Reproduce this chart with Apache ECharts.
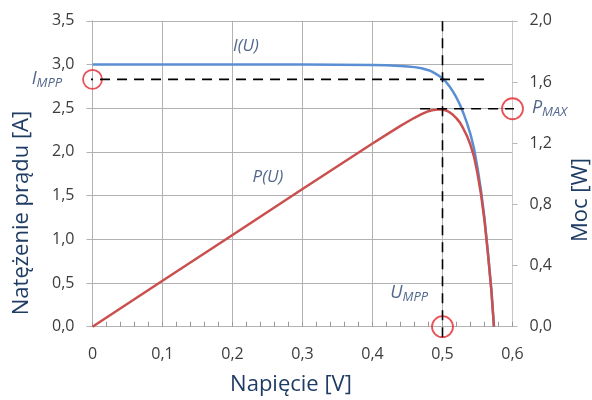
<!DOCTYPE html>
<html>
<head>
<meta charset="utf-8">
<script src="https://cdn.jsdelivr.net/npm/echarts@6/dist/echarts.min.js"></script>
<style>
html,body{margin:0;padding:0;background:#fff;}
#chart{width:592px;height:400px;}
</style>
</head>
<body>
<div id="chart"></div>
<script>
// ---- data ----
const voltage = [0, 0.1, 0.2, 0.3, 0.35, 0.4, 0.42, 0.44, 0.45, 0.46, 0.47, 0.48, 0.485, 0.49, 0.495, 0.5, 0.505, 0.51, 0.515, 0.52, 0.525, 0.53, 0.535, 0.54, 0.545, 0.55, 0.555, 0.56, 0.565, 0.57, 0.5735];
const current = [3.0, 3.0, 3.0, 3.0, 2.998, 2.995, 2.99, 2.984, 2.978, 2.97, 2.957, 2.935, 2.918, 2.895, 2.87, 2.84, 2.80, 2.75, 2.69, 2.62, 2.54, 2.44, 2.33, 2.20, 2.04, 1.82, 1.56, 1.24, 0.84, 0.40, 0];
const power   = [0, 0.30, 0.60, 0.90, 1.049, 1.198, 1.256, 1.313, 1.340, 1.366, 1.390, 1.409, 1.415, 1.419, 1.421, 1.420, 1.414, 1.402, 1.385, 1.362, 1.334, 1.293, 1.247, 1.188, 1.112, 1.001, 0.866, 0.694, 0.475, 0.228, 0];

const U_MPP = 0.5;
const I_MPP = 2.83;
const P_MAX = 1.425;

const xTickLabels = ['0', '0,1', '0,2', '0,3', '0,4', '0,5', '0,6'];
const leftTickLabels = ['0,0', '0,5', '1,0', '1,5', '2,0', '2,5', '3,0', '3,5'];
const rightTickLabels = ['0,0', '0,4', '0,8', '1,2', '1,6', '2,0'];

const curveLabels = ['I(U)', 'P(U)'];
// ---------------------------------------

const chart = echarts.init(document.getElementById('chart'), null, {renderer: 'canvas'});

const tickFont = {fontFamily: 'Open Sans', fontSize: 16, color: '#3c3c3c'};
const titleColor = '#1f3c64';
const gridColor = '#b2b2b2';
const dash = {color: '#000', width: 1.6, type: [10, 7]};
const annColor = '#26406e';
const rich = {
  m: {fontFamily: 'Open Sans', fontStyle: 'italic', fontSize: 18, color: annColor, lineHeight: 19, verticalAlign: 'top'},
  s: {fontFamily: 'Open Sans', fontStyle: 'italic', fontSize: 13, color: annColor, lineHeight: 14, padding: [7, 0, 0, 0]}
};

const circleStyle = {color: 'rgba(0,0,0,0)', borderColor: '#e4262c', borderWidth: 1.8};

const option = {
  animation: false,
  backgroundColor: '#fff',
  grid: {left: 92.5, right: 79.5, top: 20.8, bottom: 73.3, containLabel: false},
  xAxis: {
    type: 'value', min: 0, max: 0.6, interval: 0.1,
    axisLine: {show: true, lineStyle: {color: gridColor, width: 1}},
    axisTick: {show: true, inside: true, length: 5, lineStyle: {color: '#9a9a9a'}},
    minorTick: {show: true, splitNumber: 5, length: 5, lineStyle: {color: '#9a9a9a'}},
    splitLine: {show: true, lineStyle: {color: gridColor}},
    axisLabel: Object.assign({margin: 20, formatter: v => xTickLabels[Math.round(v / 0.1)]}, tickFont)
  },
  yAxis: [
    {
      type: 'value', min: 0, max: 3.5, interval: 0.5,
      axisLine: {show: true, lineStyle: {color: gridColor}},
      axisTick: {show: true, inside: false, length: 6, lineStyle: {color: gridColor}},
      splitLine: {show: true, lineStyle: {color: gridColor}},
      axisLabel: Object.assign({margin: 18, formatter: v => leftTickLabels[Math.round(v / 0.5)]}, tickFont)
    },
    {
      type: 'value', min: 0, max: 2.0, interval: 0.4, position: 'right',
      axisLine: {show: true, lineStyle: {color: '#c8c8c8'}},
      axisTick: {show: true, inside: false, length: 5, lineStyle: {color: '#b8b8b8'}},
      splitLine: {show: false},
      axisLabel: Object.assign({margin: 17, formatter: v => rightTickLabels[Math.round(v / 0.4)]}, tickFont)
    }
  ],
  graphic: [
    {type: 'text', x: 22, y: 213, rotation: Math.PI / 2,
     style: {text: 'Natężenie prądu [A]', font: '22px "Open Sans"', fill: titleColor, align: 'center', verticalAlign: 'middle'}},
    {type: 'text', x: 581, y: 200, rotation: Math.PI / 2,
     style: {text: 'Moc [W]', font: '22px "Open Sans"', fill: titleColor, align: 'center', verticalAlign: 'middle'}},
    {type: 'text', x: 291, y: 385,
     style: {text: 'Napięcie [V]', font: '22px "Open Sans"', fill: titleColor, align: 'center', verticalAlign: 'middle'}}
  ],
  series: [
    {
      name: 'I(U)', type: 'line', yAxisIndex: 0, showSymbol: false, symbol: 'none', smooth: false,
      lineStyle: {color: '#5b8fd3', width: 2.5, join: 'round'},
      data: voltage.map((u, i) => [u, current[i]])
    },
    {
      name: 'P(U)', type: 'line', yAxisIndex: 1, showSymbol: false, symbol: 'none', smooth: false,
      lineStyle: {color: '#c9504e', width: 2.5, join: 'round'},
      data: voltage.map((u, i) => [u, power[i]])
    },
    // dashed guide lines
    {type: 'line', yAxisIndex: 0, symbol: 'none', clip: false, lineStyle: dash,
     data: [[-0.0135, I_MPP], [0.568, I_MPP]]},
    {type: 'line', yAxisIndex: 0, symbol: 'none', clip: false, lineStyle: dash,
     data: [[U_MPP, -0.12], [U_MPP, 3.5]]},
    {type: 'line', yAxisIndex: 1, symbol: 'none', clip: false, lineStyle: dash,
     data: [[0.468, P_MAX], [0.621, P_MAX]]},
    // circles with labels
    {type: 'scatter', yAxisIndex: 0, clip: false, symbolSize: 19, itemStyle: circleStyle,
     label: {show: true, position: 'left', distance: 20, formatter: '{m|I}{s|MPP}', rich: rich},
     data: [[0, I_MPP]]},
    {type: 'scatter', yAxisIndex: 1, clip: false, symbolSize: 21, itemStyle: circleStyle,
     label: {show: true, position: 'right', distance: 8, formatter: '{m|P}{s|MAX}', rich: rich},
     data: [[0.6, P_MAX]]},
    {type: 'scatter', yAxisIndex: 0, clip: false, symbolSize: 21, itemStyle: circleStyle,
     label: {show: true, position: [-3, -12], align: 'right', verticalAlign: 'bottom', formatter: '{m|U}{s|MPP}', rich: rich},
     data: [[U_MPP, 0]]},
    // curve name labels
    {type: 'scatter', yAxisIndex: 0, symbolSize: 0, clip: false,
     label: {show: true, position: 'inside', formatter: p => p.name, fontSize: 17, fontFamily: 'Open Sans', fontStyle: 'italic', color: annColor},
     data: [{name: curveLabels[0], value: [0.2193, 3.21]}, {name: curveLabels[1], value: [0.2507, 1.713]}]}
  ]
};

chart.setOption(option);
</script>
</body>
</html>
